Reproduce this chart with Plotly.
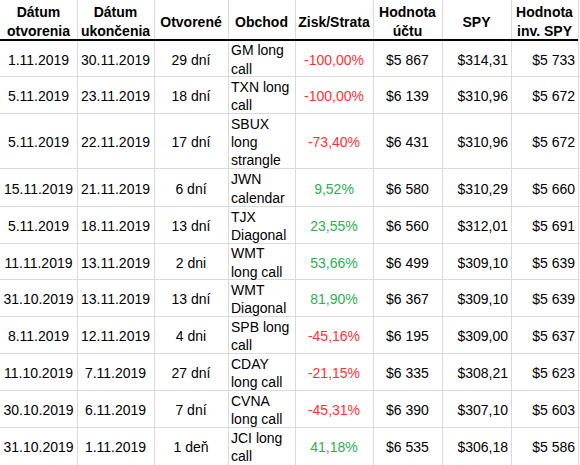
import plotly.graph_objects as go

# ---- data ----
headers = ["Dátum<br>otvorenia", "Dátum<br>ukončenia", "Otvorené", "Obchod",
           "Zisk/Strata", "Hodnota<br>účtu", "SPY", "Hodnota<br>inv. SPY"]
open_dates = ["1.11.2019", "5.11.2019", "5.11.2019", "15.11.2019", "5.11.2019",
              "11.11.2019", "31.10.2019", "8.11.2019", "11.10.2019", "30.10.2019", "31.10.2019"]
close_dates = ["30.11.2019", "23.11.2019", "22.11.2019", "21.11.2019", "18.11.2019",
               "13.11.2019", "13.11.2019", "12.11.2019", "7.11.2019", "6.11.2019", "1.11.2019"]
durations = ["29 dní", "18 dní", "17 dní", "6 dní", "13 dní", "2 dni", "13 dní",
             "4 dni", "27 dní", "7 dní", "1 deň"]
trades = ["GM long<br>call", "TXN long<br>call", "SBUX<br>long<br>strangle", "JWN<br>calendar",
          "TJX<br>Diagonal", "WMT<br>long call", "WMT<br>Diagonal", "SPB long<br>call",
          "CDAY<br>long call", "CVNA<br>long call", "JCI long<br>call"]
pnl_pct = [-100.00, -100.00, -73.40, 9.52, 23.55, 53.66, 81.90, -45.16, -21.15, -45.31, 41.18]
account_value = [5867, 6139, 6431, 6580, 6560, 6499, 6367, 6195, 6335, 6390, 6535]
spy_price = [314.31, 310.96, 310.96, 310.29, 312.01, 309.10, 309.10, 309.00, 308.21, 307.10, 306.18]
spy_invest = [5733, 5672, 5672, 5660, 5691, 5639, 5639, 5637, 5623, 5603, 5586]

# ---- layout constants ----
W, H = 580, 465
col_edges = [0, 77, 154, 228, 295, 373, 442, 511, 578]
row_heights = [40, 36, 37, 55, 38, 37, 36, 37, 37, 37, 37, 37]
aligns = ["center", "center", "center", "left", "center", "center", "right", "right"]
PAD = 3
YOFF = 3
FONT = "Liberation Sans, Arial, sans-serif"
FS = 14
RED = "#ff3333"
GREEN = "#2ab14f"

row_edges = [0]
for h in row_heights:
    row_edges.append(row_edges[-1] + h)
row_centers = [(row_edges[i] + row_edges[i + 1]) / 2 + YOFF for i in range(len(row_heights))]


def fmt_pct(v):
    return f"{v:.2f}".replace(".", ",") + "%"


def fmt_int(v):
    return "$" + f"{v:,}".replace(",", " ")


def fmt_dec(v):
    return "$" + f"{v:.2f}".replace(".", ",")


columns = [
    open_dates,
    close_dates,
    durations,
    trades,
    [fmt_pct(v) for v in pnl_pct],
    [fmt_int(v) for v in account_value],
    [fmt_dec(v) for v in spy_price],
    [fmt_int(v) for v in spy_invest],
]
pnl_colors = [RED if v < 0 else GREEN for v in pnl_pct]


def x_for(ci):
    a = aligns[ci]
    if a == "left":
        return col_edges[ci] + PAD, "middle right"
    if a == "right":
        return col_edges[ci + 1] - PAD, "middle left"
    return (col_edges[ci] + col_edges[ci + 1]) / 2, "middle center"


fig = go.Figure()

# header
for ci, htxt in enumerate(headers):
    xc = (col_edges[ci] + col_edges[ci + 1]) / 2
    fig.add_trace(go.Scatter(
        x=[xc], y=[row_centers[0]], mode="text", text=[htxt],
        textposition="middle center",
        textfont=dict(family=FONT, size=FS, color="#000000", weight="bold"),
        hoverinfo="skip", showlegend=False, cliponaxis=False))

# body
for ci, vals in enumerate(columns):
    x, pos = x_for(ci)
    color = pnl_colors if ci == 4 else "#000000"
    fig.add_trace(go.Scatter(
        x=[x] * len(vals), y=row_centers[1:], mode="text", text=vals,
        textposition=pos,
        textfont=dict(family=FONT, size=FS, color=color),
        hoverinfo="skip", showlegend=False, cliponaxis=False))

# thick line under header
fig.add_shape(type="line", xref="x", yref="y", x0=0, x1=col_edges[-1],
              y0=row_edges[1], y1=row_edges[1], line=dict(color="#000000", width=2))

fig.update_layout(
    width=W, height=H, margin=dict(l=0, r=0, t=0, b=0),
    paper_bgcolor="white", plot_bgcolor="white",
    xaxis=dict(range=[0, W], tickvals=col_edges[1:], showgrid=True, gridcolor="#dadada",
               gridwidth=1, showticklabels=False, zeroline=False, ticks="", fixedrange=True),
    yaxis=dict(range=[H, 0], tickvals=row_edges[2:], showgrid=True, gridcolor="#dadada",
               gridwidth=1, showticklabels=False, zeroline=False, ticks="", fixedrange=True),
)

fig.write_html("out.html", config={"displayModeBar": False},
               post_script="document.body.style.margin='0';")
